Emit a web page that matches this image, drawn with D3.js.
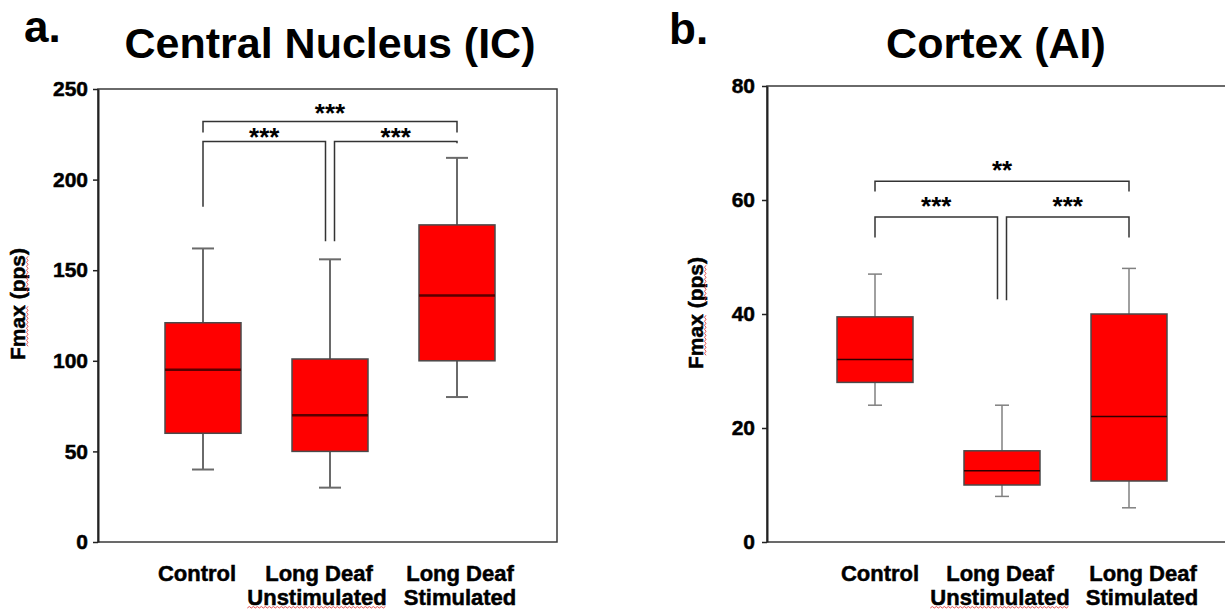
<!DOCTYPE html>
<html>
<head>
<meta charset="utf-8">
<script src="https://cdn.jsdelivr.net/npm/d3@7"></script>
<style>
  body { margin: 0; background: #fff; }
  svg { display: block; font-family: "Liberation Sans", Arial, sans-serif; }
  .heavy { stroke: #000; stroke-width: 0.5px; }
</style>
</head>
<body>
<svg id="chart" width="1225" height="610"></svg>
<script>
// categories and labels (shared by both panels)
const categories = ['Control', 'Long Deaf Unstimulated', 'Long Deaf Stimulated'];
const labelLines = [['Control'], ['Long Deaf', 'Unstimulated'], ['Long Deaf', 'Stimulated']];

// a. Central Nucleus (IC)
const icTicks = [0, 50, 100, 150, 200, 250];
const icMin = [40, 30, 80];
const icQ1 = [60, 50, 100];
const icMedian = [95, 70, 136];
const icQ3 = [121, 101, 175];
const icMax = [162, 156, 212];
const icBrackets = [
  { from: 0, to: 2, level: 232, legs: [226, 226], stars: '***', starLevel: 240 },
  { from: 0, to: 1, level: 221, legs: [185, 166], stars: '***', starLevel: 227 },
  { from: 1, to: 2, level: 221, legs: [166, 220], stars: '***', starLevel: 227 }
];

// b. Cortex (AI)
const aiTicks = [0, 20, 40, 60, 80];
const aiMin = [24, 8, 6];
const aiQ1 = [28, 10, 10.7];
const aiMedian = [32, 12.5, 22];
const aiQ3 = [39.5, 16, 40];
const aiMax = [47, 24, 48];
const aiBrackets = [
  { from: 0, to: 2, level: 63.3, legs: [61.5, 61.5], stars: '**', starLevel: 66.3 },
  { from: 0, to: 1, level: 57, legs: [53.4, 42.6], stars: '***', starLevel: 60 },
  { from: 1, to: 2, level: 57, legs: [42.4, 53.4], stars: '***', starLevel: 60 }
];

const svg = d3.select('#chart');

// red zigzag like a spell-check mark, from x0 to x1 at height y
function squiggle (parent, x0, x1, yy) {
  let d = `M${x0},${yy}`;
  let up = true;
  for (let xx = x0 + 2; xx <= x1; xx += 2) {
    d += `L${xx},${yy + (up ? -1.5 : 0)}`;
    up = !up;
  }
  parent.append('path')
    .attr('d', d)
    .attr('fill', 'none')
    .attr('stroke', '#e04040')
    .attr('stroke-width', 0.9);
}

function drawPanel (p) {
  const g = svg.append('g');

  const x = d3.scalePoint()
    .domain(categories)
    .range([p.left + p.firstX, p.left + p.lastX]);
  const y = d3.scaleLinear()
    .domain([0, p.ticks[p.ticks.length - 1]])
    .range([p.bottom, p.top]);

  // frame
  g.append('rect')
    .attr('x', p.left)
    .attr('y', p.top)
    .attr('width', p.right - p.left)
    .attr('height', p.bottom - p.top)
    .attr('fill', 'none')
    .attr('stroke', '#3a3a3a')
    .attr('stroke-width', 1.5);

  // y axis
  const axis = g.append('g')
    .attr('transform', `translate(${p.left},0)`)
    .call(d3.axisLeft(y).tickValues(p.ticks).tickSize(5).tickSizeOuter(0).tickPadding(p.tickPad));
  axis.select('.domain').attr('stroke', '#222').attr('stroke-width', 2);
  axis.selectAll('.tick line').attr('stroke', '#222').attr('stroke-width', 1.5);
  axis.selectAll('.tick text')
    .attr('fill', '#000')
    .attr('class', 'heavy')
    .style('font-size', '21px')
    .style('font-weight', 'bold')
    .style('font-family', '"Liberation Sans", Arial, sans-serif');

  // whiskers
  const boxes = categories.map((c, i) => ({
    c, min: p.min[i], q1: p.q1[i], med: p.median[i], q3: p.q3[i], max: p.max[i]
  }));

  g.selectAll('.whisker')
    .data(boxes)
    .join('line')
    .attr('x1', d => x(d.c))
    .attr('x2', d => x(d.c))
    .attr('y1', d => y(d.min))
    .attr('y2', d => y(d.max))
    .attr('stroke', p.whiskerColor)
    .attr('stroke-width', p.whiskerWidth);

  ['min', 'max'].forEach(k => {
    g.selectAll('.cap-' + k)
      .data(boxes)
      .join('line')
      .attr('x1', d => x(d.c) - p.capWidth / 2)
      .attr('x2', d => x(d.c) + p.capWidth / 2)
      .attr('y1', d => y(d[k]))
      .attr('y2', d => y(d[k]))
      .attr('stroke', p.whiskerColor)
      .attr('stroke-width', p.whiskerWidth);
  });

  // boxes
  g.selectAll('.box')
    .data(boxes)
    .join('rect')
    .attr('x', d => x(d.c) - p.boxWidth / 2)
    .attr('y', d => y(d.q3))
    .attr('width', p.boxWidth)
    .attr('height', d => y(d.q1) - y(d.q3))
    .attr('fill', '#ff0000')
    .attr('stroke', '#4a4a4a')
    .attr('stroke-width', 1.5);

  g.selectAll('.median')
    .data(boxes)
    .join('line')
    .attr('x1', d => x(d.c) - p.boxWidth / 2)
    .attr('x2', d => x(d.c) + p.boxWidth / 2)
    .attr('y1', d => y(d.med))
    .attr('y2', d => y(d.med))
    .attr('stroke', p.medianColor)
    .attr('stroke-width', p.medianWidth);

  // significance brackets
  const gap = 4.5;
  const bx = (idx, side) => x(categories[idx]) + (idx === 1 ? side * gap : 0);
  p.brackets.forEach(b => {
    const xa = bx(b.from, 1);
    const xb = bx(b.to, -1);
    g.append('path')
      .attr('d', `M${xa},${y(b.legs[0])}V${y(b.level)}H${xb}V${y(b.legs[1])}`)
      .attr('fill', 'none')
      .attr('stroke', '#333')
      .attr('stroke-width', 1.5);
    g.append('text')
      .attr('x', (xa + xb) / 2)
      .attr('y', y(b.starLevel) + 15)
      .attr('text-anchor', 'middle')
      .style('font-size', '26px')
      .style('font-weight', 'bold')
      .text(b.stars);
  });

  // category labels
  categories.forEach((c, i) => {
    labelLines[i].forEach((line, j) => {
      const cx = x(c) + p.labelShift[i][j];
      const by = 581 + j * 24;
      const t = g.append('text')
        .attr('x', cx)
        .attr('y', by)
        .attr('text-anchor', 'middle')
        .attr('class', 'heavy')
        .style('font-size', '22px')
        .style('font-weight', 'bold')
        .text(line);
      if (line === 'Unstimulated') {
        const len = t.node().getComputedTextLength();
        squiggle(g, cx - len / 2, cx + len / 2, by + 3);
      }
    });
  });

  // y label, rotated, with spell-check marks under "Fmax" and "pps"
  const yg = g.append('g')
    .attr('transform', `translate(${p.yLabelX},${p.yLabelY}) rotate(-90)`);
  const yl = yg.append('text')
    .attr('text-anchor', 'middle')
    .attr('class', 'heavy')
    .style('font-size', '21px')
    .style('font-weight', 'bold');
  const parts = ['Fmax', ' (', 'pps', ')'].map(s => yl.append('tspan').text(s));
  const lens = parts.map(s => s.node().getComputedTextLength());
  const total = d3.sum(lens);
  const start = -total / 2;
  squiggle(yg, start + lens[0] * 0.25, start + lens[0], 3);
  squiggle(yg, start + lens[0] + lens[1], start + lens[0] + lens[1] + lens[2], 3);

  // panel letter and title
  svg.append('text')
    .attr('x', p.letterX)
    .attr('y', p.letterY)
    .style('font-size', '44px')
    .style('font-weight', 'bold')
    .text(p.letter);
  svg.append('text')
    .attr('x', p.titleX)
    .attr('y', 58)
    .attr('text-anchor', 'middle')
    .style('font-size', '43px')
    .style('font-weight', 'bold')
    .text(p.title);
}

drawPanel({
  letter: 'a.', letterX: 24, letterY: 42,
  title: 'Central Nucleus (IC)', titleX: 330,
  left: 98, right: 557, top: 89, bottom: 542,
  firstX: 105, lastX: 359,
  ticks: icTicks, tickPad: 5,
  min: icMin, q1: icQ1, median: icMedian, q3: icQ3, max: icMax,
  brackets: icBrackets,
  boxWidth: 76, capWidth: 22, whiskerWidth: 2, whiskerColor: '#6a6a6a',
  medianColor: '#5a0000', medianWidth: 2.5,
  labelShift: [[-6], [-11, -13], [3, 3]],
  yLabelX: 25, yLabelY: 304
});

drawPanel({
  letter: 'b.', letterX: 669, letterY: 44,
  title: 'Cortex (AI)', titleX: 996,
  left: 767, right: 1237, top: 86, bottom: 542,
  firstX: 108, lastX: 362,
  ticks: aiTicks, tickPad: 7,
  min: aiMin, q1: aiQ1, median: aiMedian, q3: aiQ3, max: aiMax,
  brackets: aiBrackets,
  boxWidth: 76, capWidth: 14, whiskerWidth: 1.5, whiskerColor: '#808080',
  medianColor: '#300000', medianWidth: 1.5,
  labelShift: [[5], [-2, -2], [14, 13]],
  yLabelX: 703, yLabelY: 313
});
</script>
</body>
</html>
